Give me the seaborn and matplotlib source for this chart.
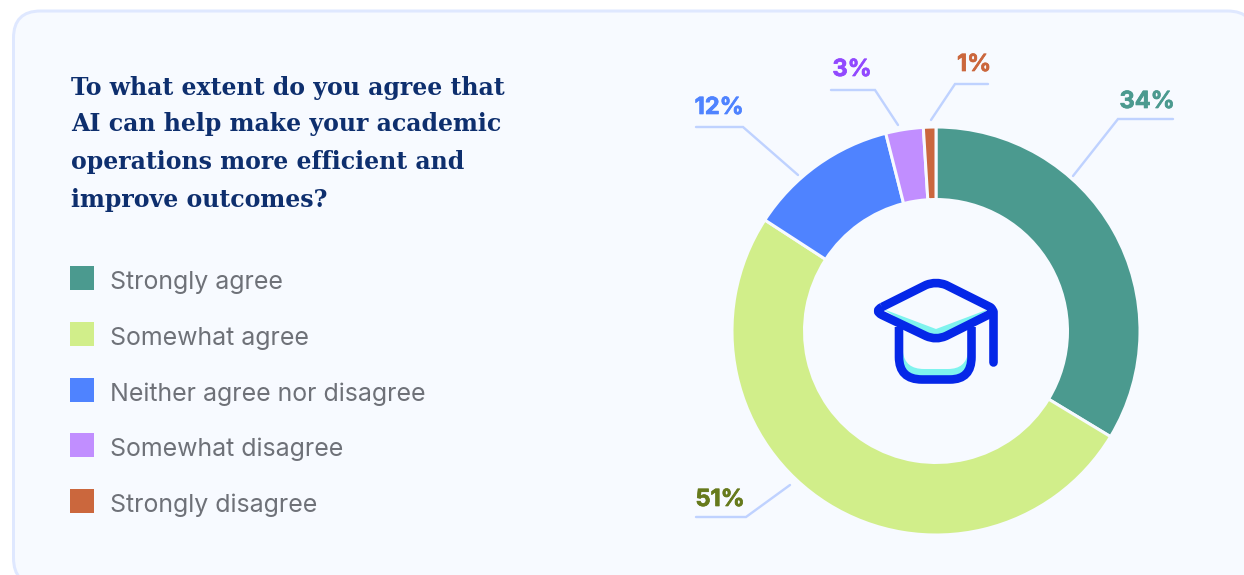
import matplotlib
matplotlib.use("Agg")
import matplotlib.pyplot as plt
import matplotlib.patheffects as pe
import seaborn as sns
from matplotlib.patches import FancyBboxPatch, Rectangle, PathPatch, Polygon
from matplotlib.path import Path

# Survey responses, in percent
categories = ["Strongly agree", "Somewhat agree", "Neither agree nor disagree",
              "Somewhat disagree", "Strongly disagree"]
shares = [34, 51, 12, 3, 1]
title_lines = ["To what extent do you agree that", "AI can help make your academic",
               "operations more efficient and", "improve outcomes?"]

W, H = 1244, 575
CARD = "#F7FAFF"
slice_colors = sns.color_palette(["#4B9A8F", "#D1EE8A", "#4F83FF", "#C18EFF", "#CB673D"])
label_colors = ["#4B9A8F", "#667A1C", "#4F83FF", "#9249FF", "#CB673D"]
LEADER = "#BFD2FF"
px = 72 / 100  # one pixel in points at 100 dpi

sns.set_theme(style="white")
plt.rcParams["font.family"] = ["Inter", "DejaVu Sans"]

fig = plt.figure(figsize=(W / 100, H / 100), dpi=100, facecolor="white")

# Full-figure canvas addressed in pixels, y pointing down
bg = fig.add_axes([0, 0, 1, 1])
bg.set_xlim(0, W)
bg.set_ylim(H, 0)
bg.axis("off")
bg.add_patch(FancyBboxPatch((13.5, 11), 1241, 574,
                            boxstyle="round,pad=0,rounding_size=27",
                            fc=CARD, ec="#DFE8FF", lw=3 * px))

# Heading
for y, line in zip([87.5, 124.5, 161.5, 199.5], title_lines):
    bg.text(71, y, line, family="DejaVu Serif", fontweight="bold", fontsize=17,
            color="#0E2F6E", va="center", ha="left")

# Legend column
for y, name, col in zip([278, 334, 390, 445, 501], categories, slice_colors):
    bg.add_patch(Rectangle((70, y - 12), 24, 24, fc=col, ec="none"))
    bg.text(110.5, y + 4.5, name, fontsize=17.95, color="#6E7178", va="center", ha="left")

# Donut
R, cx, cy = 204, 936, 331
ax = fig.add_axes([(cx - R) / W, 1 - (cy + R) / H, 2 * R / W, 2 * R / H])
ax.pie(shares, colors=slice_colors, startangle=90, counterclock=False, radius=1,
       wedgeprops=dict(width=72.5 / R, edgecolor=CARD, linewidth=3 * px))
ax.set_xlim(-1, 1)
ax.set_ylim(-1, 1)
ax.patch.set_alpha(0)

# Leader lines and value labels
leaders = [
    ([(1073, 176), (1118, 119), (1173, 119)], (1147, 100)),
    ([(790, 485), (746, 517), (696, 517)], (720, 498)),
    ([(798, 175), (743, 127), (696, 127)], (719, 106)),
    ([(898, 125), (875, 90), (831, 90)], (852, 68)),
    ([(931, 120), (955, 84), (988, 84)], (974, 63)),
]
for val, col, (pts, pos) in zip(shares, label_colors, leaders):
    xs, ys = zip(*pts)
    bg.plot(xs, ys, color=LEADER, lw=2.4 * px, solid_capstyle="round",
            solid_joinstyle="miter", zorder=3)
    bg.text(pos[0], pos[1] + 2, f"{val}%", fontsize=17, fontweight="bold", color=col,
            ha="center", va="center",
            path_effects=[pe.withStroke(linewidth=0.5, foreground=col)])

# Mortarboard icon in the middle of the ring
icon = fig.add_axes([0, 0, 1, 1])
icon.set_xlim(0, W)
icon.set_ylim(H, 0)
icon.axis("off")
NAVY = "#0527E8"
AQUA = "#7FF3EE"
STROKE = 8.6 * px
icon.add_patch(Polygon([(883, 309), (936, 329), (989, 309), (936, 342)],
                       closed=True, fc=AQUA, ec="none"))
icon.add_patch(PathPatch(Path(
    [(903, 352), (905, 369), (924, 369), (948, 369), (966, 369), (968, 352),
     (968, 378), (903, 378), (903, 352)],
    [Path.MOVETO, Path.CURVE3, Path.CURVE3, Path.LINETO, Path.CURVE3, Path.CURVE3,
     Path.LINETO, Path.LINETO, Path.CLOSEPOLY]),
    fc=AQUA, ec="none"))
icon.add_patch(PathPatch(Path(
    [(882, 307), (926, 285), (936, 281), (946, 285), (990, 307), (995, 310),
     (990, 314), (946, 336), (936, 340.5), (926, 336), (882, 315), (874, 311),
     (882, 307)],
    [Path.MOVETO, Path.LINETO, Path.CURVE3, Path.CURVE3, Path.LINETO, Path.CURVE3,
     Path.CURVE3, Path.LINETO, Path.CURVE3, Path.CURVE3, Path.LINETO, Path.CURVE3,
     Path.CURVE3]),
    fc="none", ec=NAVY, lw=STROKE, joinstyle="round"))
icon.add_patch(PathPatch(Path(
    [(899, 327), (899, 357), (899, 379.5), (922, 379.5), (950, 379.5),
     (971.5, 379.5), (971.5, 357), (971.5, 327)],
    [Path.MOVETO, Path.LINETO, Path.CURVE3, Path.CURVE3, Path.LINETO,
     Path.CURVE3, Path.CURVE3, Path.LINETO]),
    fc="none", ec=NAVY, lw=STROKE, capstyle="butt"))
icon.plot([993, 993], [311, 362], color=NAVY, lw=STROKE, solid_capstyle="round")

fig.savefig("out.png", dpi=100, facecolor="white")
